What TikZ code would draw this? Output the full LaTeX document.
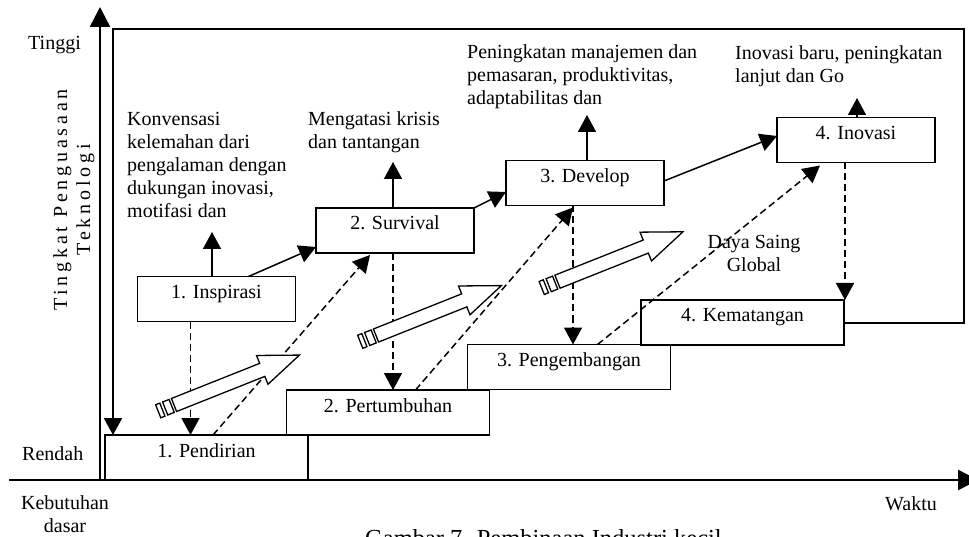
\documentclass[tikz,border=0pt]{standalone}
\usepackage{fontspec}
\setmainfont{Liberation Serif}
\usetikzlibrary{arrows.meta,calc}

\begin{document}
\begin{tikzpicture}[x=1pt,y=-1pt,
  every node/.style={font=\fontsize{20}{23}\selectfont, inner sep=0pt},
  stagebox/.style={draw, line width=1.6pt, minimum height=45pt, inner sep=0pt, outer sep=0pt},
  lowstage/.style={stagebox, minimum width=203pt},
  highstage/.style={stagebox, minimum width=158pt},
  lbl/.style={anchor=base},
  note/.style={anchor=north west, align=left},
  link/.style={line width=1.5pt, -{Triangle[length=17pt,width=18pt]}},
  dlink/.style={link, dash pattern=on 7pt off 4pt},
  axis/.style={line width=2.6pt, -{Triangle[length=20pt,width=20pt]}},
  feedback/.style={line width=2pt, -{Triangle[length=17pt,width=18pt]}},
  pics/stripedarrow/.style={code={
    \draw[fill=white, line width=1.3pt, line join=miter]
      (0,-7) -- (95,-7) -- (95,-15.5) -- (135,0) -- (95,15.5) -- (95,7) -- (0,7) -- cycle;
    \draw[fill=white, line width=1.3pt] (-2.5,-7) rectangle (-9.5,7);
    \draw[fill=white, line width=1.3pt] (-12.5,-7) rectangle (-17,7);
  }}
]
\useasboundingbox (0,0) rectangle (969,537);

% axes
\coordinate (origin) at (100,480);
\coordinate (ytop) at (100,7);
\coordinate (xleft) at (9,480);
\coordinate (xright) at (978,480);
\draw[axis] (origin) -- (ytop);
\draw[line width=2.6pt] (xleft) -- (origin);
\draw[axis] (origin) -- (xright);

% axis texts (the strut fixes the first baseline 16.1pt below the top)
\node[anchor=base west] (tinggi) at (28,50) {Tinggi};
\node[anchor=base west] (rendah) at (22,460) {Rendah};
\node[anchor=base] (kebutuhan) at (65,509) {Kebutuhan};
\node[anchor=base] (dasar) at (65,532) {dasar};
\node[anchor=base west] (waktu) at (885,510) {Waktu};
\node[rotate=90, align=center] (ylabel) at (74,200)
  {\addfontfeature{LetterSpace=19}\strut Tingkat Penguasaan\\
   \addfontfeature{LetterSpace=19}\strut Teknologi};

% lower staircase of stages
\node[lowstage] (pendirian)    at (206.5,457.5) {};
\node[lowstage] (pertumbuhan)  at (388,412.5) {};
\node[lowstage] (pengembangan) at (569,367) {};
\node[lowstage] (kematangan)   at (742.5,322.5) {};
\node[lbl] (t-pendirian)    at ($(pendirian.north)+(0,22)$)    {1. Pendirian};
\node[lbl] (t-pertumbuhan)  at ($(pertumbuhan.north)+(0,22)$)  {2. Pertumbuhan};
\node[lbl] (t-pengembangan) at ($(pengembangan.north)+(0,22)$) {3. Pengembangan};
\node[lbl] (t-kematangan)   at ($(kematangan.north)+(0,22)$)   {4. Kematangan};

% upper line of stages
\node[highstage] (inspirasi) at (216.5,299) {};
\node[highstage] (survival)  at (395,230.5) {};
\node[highstage] (develop)   at (585,183) {};
\node[highstage] (inovasi)   at (856,140) {};
\node[lbl] (t-inspirasi) at ($(inspirasi.north)+(0,22)$) {1. Inspirasi};
\node[lbl] (t-survival)  at ($(survival.north)+(0,22)$)  {2. Survival};
\node[lbl] (t-develop)   at ($(develop.north)+(0,22)$)   {3. Develop};
\node[lbl] (t-inovasi)   at ($(inovasi.north)+(0,22)$)   {4. Inovasi};

% notes above the upper stages
\node[note] (n-inspirasi) at (127,108.9)
  {\strut Konvensasi\\kelemahan dari\\pengalaman dengan\\dukungan inovasi,\\motifasi dan};
\node[note] (n-survival) at (308,108.9) {\strut Mengatasi krisis\\dan tantangan};
\node[note] (n-develop) at (467,41.9)
  {\strut Peningkatan manajemen dan\\pemasaran, produktivitas,\\adaptabilitas dan};
\node[note] (n-inovasi) at (735,42.9) {\strut Inovasi baru, peningkatan\\lanjut dan Go};
\node[anchor=north, align=center] (dayasaing) at (754,231.9) {\strut Daya Saing\\Global};

% arrows pointing up from the upper stages
\coordinate (up1) at (212,232);
\coordinate (up2) at (393,162);
\coordinate (up3) at (587,115);
\coordinate (up4) at (857,98);
\draw[link] (up1 |- inspirasi.north) -- (up1);
\draw[link] (up2 |- survival.north) -- (up2);
\draw[link] (up3 |- develop.north) -- (up3);
\draw[link] (up4 |- inovasi.north) -- (up4);

% solid links between upper stages
\draw[link] ($(inspirasi.north west)+(111,0)$) -- ($(survival.south west)+(0,-6)$);
\draw[link] (survival.north east) -- ($(develop.west)+(0,9)$);
\draw[link] ($(develop.east)+(0,-2)$) -- ($(inovasi.west)+(0,-4)$);

% dashed links: upper stage down to lower stage
\draw[dlink] ($(inspirasi.south west)+(53,0)$) coordinate (v1) -- (v1 |- pendirian.north);
\draw[dlink] ($(survival.south west)+(77,0)$) coordinate (v2) -- (v2 |- pertumbuhan.north);
\draw[dlink] ($(develop.south west)+(67,0)$) coordinate (v3) -- (v3 |- pengembangan.north);
\draw[dlink] ($(inovasi.south west)+(68,0)$) coordinate (v4) -- (v4 |- kematangan.north);

% dashed links: lower stage up to next upper stage
\draw[dlink] ($(pendirian.north west)+(108,0)$) -- ($(survival.south west)+(54,2)$);
\draw[dlink] ($(pertumbuhan.north west)+(129,0)$) -- ($(develop.south west)+(67,2)$);
\draw[dlink] ($(pengembangan.north west)+(130,0)$) -- ($(inovasi.south west)+(43,3)$);

% feedback loop from maturity back to founding
\draw[feedback] (kematangan.east) -| (964,29) -| ($(pendirian.north west)+(8,0)$);

% striped growth arrows
\pic[rotate=21.7] at (174,405) {stripedarrow};
\pic[rotate=21.7] at (376,335.5) {stripedarrow};
\pic[rotate=21.7] at (557.5,281.7) {stripedarrow};

% caption
\node[anchor=base west, font=\fontsize{24.5}{28}\selectfont] (caption) at (365,546)
  {Gambar 7. Pembinaan Industri kecil};
\end{tikzpicture}
\end{document}
